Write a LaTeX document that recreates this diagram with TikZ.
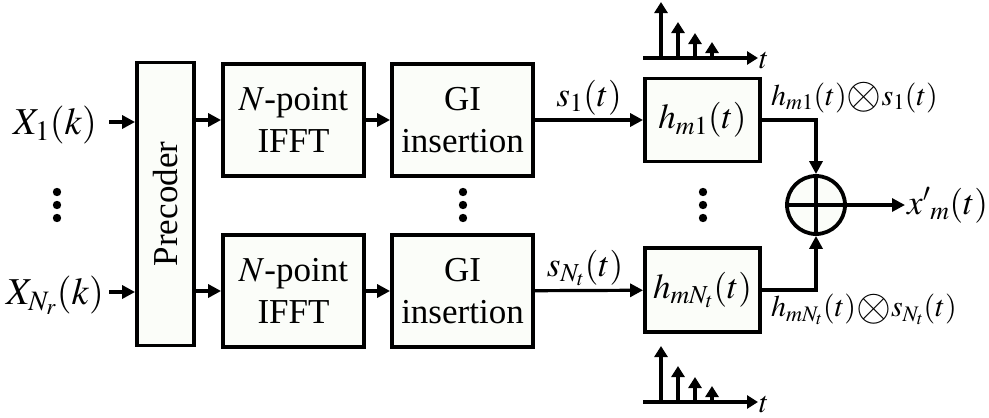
\documentclass[tikz,border=0pt]{standalone}
\usepackage{mathptmx}
\usepackage[no-math]{fontspec}
\setmainfont{Liberation Serif}
\usetikzlibrary{arrows.meta}
\definecolor{boxfill}{RGB}{251,253,249}
\newcommand{\conv}{\mathord{\raisebox{-0.12em}{\scalebox{1.5}{$\otimes$}}}}

\begin{document}
\begin{tikzpicture}[x=1pt, y=-1pt, font=\fontsize{35}{42}\selectfont,
    blk/.style={draw, line width=3.8pt, fill=boxfill, align=center, inner sep=0pt},
    arr/.style={line width=3.2pt, -{Triangle[length=13pt,width=13pt]}},
    stem/.style={line width=3.4pt, -{Triangle[length=11pt,width=13pt]}},
    inlbl/.style={font=\fontsize{38}{42}\selectfont, inner xsep=0pt, text height=25pt, text depth=0pt, minimum width=108pt},
    sumlbl/.style={font=\fontsize{30}{36}\selectfont, inner xsep=9pt}]
    \useasboundingbox (0,0) rectangle (989,418);
    % Inputs
    \node[inlbl] (x1) at (55,122) {$X_1(k)$};
    \node[inlbl] (xn) at (55,292) {$X_{N_r}(k)$};
    % Precoder
    \node[blk, minimum width=57pt, minimum height=283pt] (pre) at (165.5,204) {\rotatebox{90}{Precoder}};
    % IFFT and GI branches
    \node[blk, minimum width=141pt, minimum height=112pt] (fft1) at (293.5,120) {$N$-point\\IFFT};
    \node[blk, minimum width=141pt, minimum height=112pt] (fft2) at (293.5,291) {$N$-point\\IFFT};
    \node[blk, minimum width=141pt, minimum height=112pt] (gi1) at (462.5,120) {GI\\insertion};
    \node[blk, minimum width=141pt, minimum height=112pt] (gi2) at (462.5,291) {GI\\insertion};
    % Channels
    \node[blk, minimum width=115pt, minimum height=83pt] (h1) at (702.5,120) {$h_{m1}(t)$};
    \node[blk, minimum width=115pt, minimum height=84pt] (h2) at (702.5,290) {$h_{mN_t}(t)$};
    % Adder
    \node[draw, circle, line width=3.8pt, fill=boxfill, minimum size=58pt, inner sep=0pt] (sum) at (816,205) {};
    \draw[line width=3.2pt] (sum.north) -- (sum.south) (sum.west) -- (sum.east);
    \node[anchor=west, inner xsep=2pt] (xo) at (905,205) {${x'}_m(t)$};
    % Connectors
    \draw[arr] (x1) -- (x1 -| pre.west);
    \draw[arr] (xn) -- (xn -| pre.west);
    \draw[arr] (pre.east |- fft1) -- (fft1);
    \draw[arr] (pre.east |- fft2) -- (fft2);
    \draw[arr] (fft1) -- (gi1);
    \draw[arr] (fft2) -- (gi2);
    \draw[arr] (gi1) -- node[above] {$s_1(t)$} (h1);
    \draw[arr] (gi2) -- node[above, xshift=-4pt] {$s_{N_t}(t)$} (h2);
    \draw[arr] (h1) -| (sum);
    \draw[arr] (h2) -| (sum);
    \draw[arr] (sum) -- (xo);
    \node[sumlbl, anchor=south west, inner ysep=7pt] (c1) at (h1.east) {$h_{m1}(t)\conv s_1(t)$};
    \node[sumlbl, anchor=north west, inner ysep=4pt] (cn) at (h2.east) {$h_{mN_t}(t)\conv s_{N_t}(t)$};
    % Dots
    \foreach \x in {57,463,703}
        \foreach \y in {192,205,218}
            \fill (\x,\y) circle (4.2);
    % Impulse responses
    \foreach \ya/\nm in {58/ttop,402/tbot} {
        \node[anchor=west, inner sep=1pt, font=\fontsize{30}{34}\selectfont] (\nm) at (758,{\ya+3}) {$t$};
        \draw[stem] (643,\ya) -- (\nm.west |- 643,\ya);
        \foreach \x/\d in {661/56,678/36,695/25,712/16}
            \draw[stem] (\x,\ya) -- (\x,{\ya-\d});
    }
\end{tikzpicture}
\end{document}
